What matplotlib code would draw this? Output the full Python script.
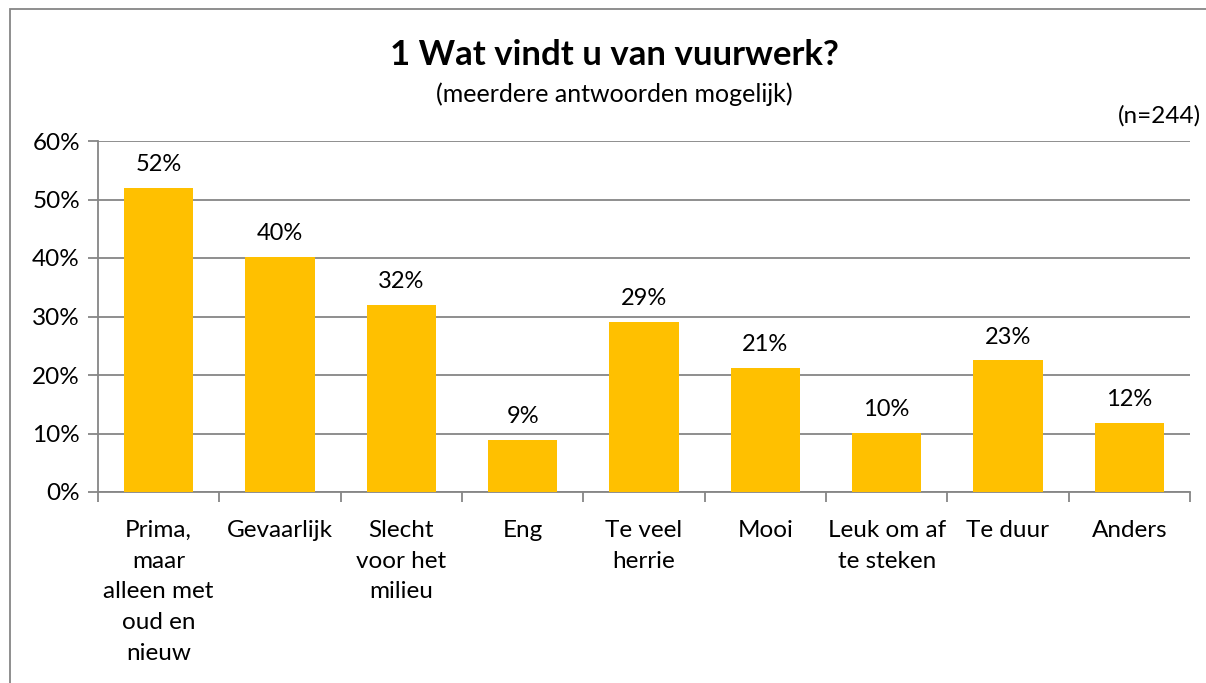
import matplotlib.pyplot as plt
from matplotlib.patches import Rectangle
from matplotlib.ticker import MultipleLocator, PercentFormatter

plt.rcParams['font.family'] = ['Lato', 'DejaVu Sans']

# data
categories = ['Prima,\nmaar\nalleen met\noud en\nnieuw', 'Gevaarlijk', 'Slecht\nvoor het\nmilieu',
              'Eng', 'Te veel\nherrie', 'Mooi', 'Leuk om af\nte steken', 'Te duur', 'Anders']
values = [52.0, 40.2, 32.0, 8.9, 29.1, 21.2, 10.1, 22.5, 11.8]
labels = ['52%', '40%', '32%', '9%', '29%', '21%', '10%', '23%', '12%']

W, H = 1206, 683
fig = plt.figure(figsize=(W / 100, H / 100), dpi=100)

# chart border (only left and top visible in the crop)
fig.patches.append(Rectangle((10 / W, -0.1), 1.2, 1 - 9 / H + 0.1, transform=fig.transFigure,
                             fill=False, edgecolor='#868686', linewidth=1.3))

ax = fig.add_axes([98 / W, 1 - 492 / H, (1190 - 98) / W, (492 - 141) / H])
x = list(range(len(values)))
ax.bar(x, values, width=0.57, color='#FFC000', zorder=3)
for xi, v, lab in zip(x, values, labels):
    ax.text(xi, v + 2.2, lab, ha='center', va='bottom', fontsize=17)

ax.set_xlim(-0.5, len(values) - 0.5)
ax.set_ylim(0, 60)
ax.yaxis.set_major_locator(MultipleLocator(10))
ax.yaxis.set_major_formatter(PercentFormatter(decimals=0))
ax.grid(axis='y', color='#868686', linewidth=1.3, zorder=0)

ax.set_xticks(x)
ax.set_xticklabels(categories, fontsize=17.5, linespacing=1.58)
ax.set_xticks([i - 0.5 for i in range(len(values) + 1)], minor=True)
ax.tick_params(axis='x', which='major', length=0, pad=20)
ax.tick_params(axis='x', which='minor', length=7, color='#868686', width=1.3)
ax.tick_params(axis='y', length=7, color='#868686', width=1.3, labelsize=17.5, pad=6)

for s in ['top', 'right']:
    ax.spines[s].set_visible(False)
for s in ['left', 'bottom']:
    ax.spines[s].set_color('#868686')
    ax.spines[s].set_linewidth(1.3)

fig.text(614 / W, 1 - 55 / H, '1 Wat vindt u van vuurwerk?', ha='center', va='center',
         fontsize=25, fontweight='bold')
fig.text(614 / W, 1 - 94 / H, '(meerdere antwoorden mogelijk)', ha='center', va='center', fontsize=18)
fig.text(1201 / W, 1 - 116 / H, '(n=244)', ha='right', va='center', fontsize=17.5)

fig.savefig('out.png', dpi=100)
